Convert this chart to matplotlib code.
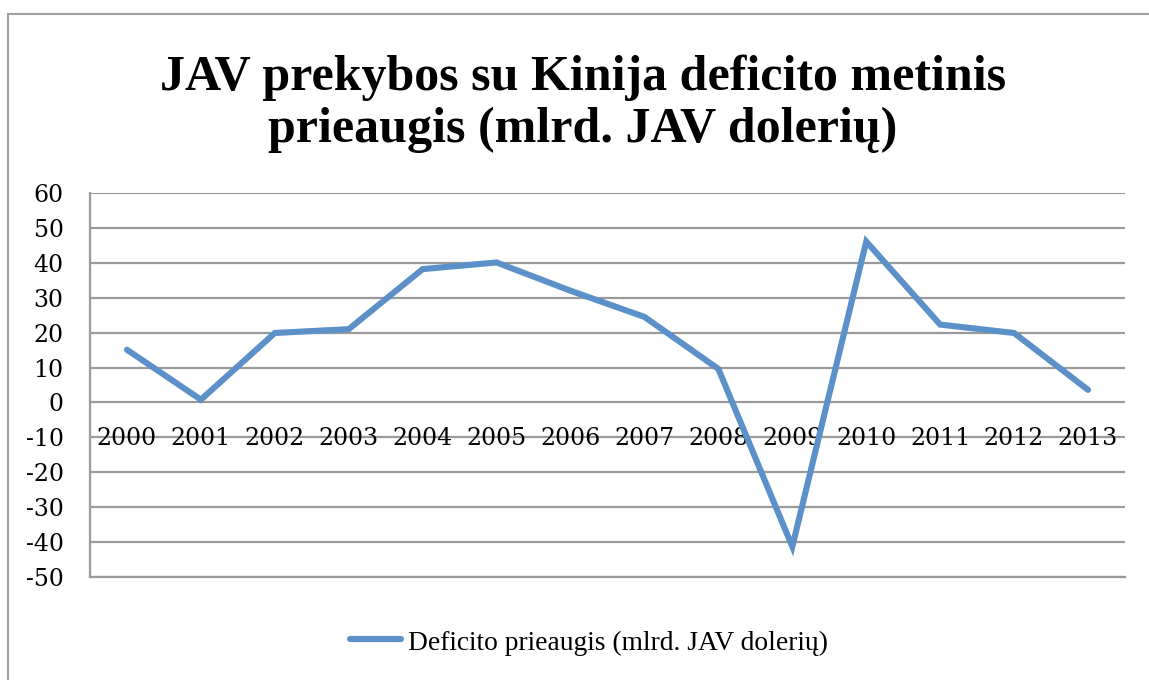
import matplotlib
matplotlib.use("Agg")
import matplotlib.pyplot as plt
from matplotlib.lines import Line2D

years = ["2000", "2001", "2002", "2003", "2004", "2005", "2006",
         "2007", "2008", "2009", "2010", "2011", "2012", "2013"]
values = [15.1, 0.8, 19.9, 21.0, 38.2, 40.1, 32.0,
          24.5, 9.6, -41.3, 46.1, 22.3, 19.9, 3.6]
yticks = [60, 50, 40, 30, 20, 10, 0, -10, -20, -30, -40, -50]
title_lines = ["JAV prekybos su Kinija deficito metinis",
               "prieaugis (mlrd. JAV dolerių)"]
series_name = "Deficito prieaugis (mlrd. JAV dolerių)"

TICKFONT = ["DejaVu Serif"]
TEXTFONT = ["Liberation Serif", "DejaVu Serif"]
plt.rcParams['font.family'] = TICKFONT

W, H = 1149, 680
fig = plt.figure(figsize=(W / 100, H / 100), dpi=100)
ax = fig.add_axes([90 / W, 1 - 577 / H, (1125 - 90) / W, (577 - 193) / H])

grid_c = "#9a9a9a"
line_c = "#5B90C8"

x = list(range(len(years)))
ax.plot(x, values, color=line_c, lw=4.4, solid_capstyle="round",
        solid_joinstyle="miter", zorder=3)

ax.set_xlim(-0.5, len(years) - 0.5)
ax.set_ylim(-50, 60)
ax.set_yticks(yticks)
ax.set_yticklabels([str(v) for v in yticks])
ax.tick_params(axis="y", length=0, pad=19, labelsize=17)
ax.set_xticks([])
ax.yaxis.grid(True, color=grid_c, lw=1.6)
ax.set_axisbelow(True)
for s in ["top", "right"]:
    ax.spines[s].set_visible(False)
ax.spines["left"].set_color(grid_c)
ax.spines["left"].set_linewidth(1.6)
ax.spines["bottom"].set_color(grid_c)
ax.spines["bottom"].set_linewidth(1.6)

for xi, lab in zip(x, years):
    ax.text(xi, -10.2, lab, ha="center", va="center", fontsize=17, zorder=2)

# Title
fig.text(583 / W, 1 - 90 / H, title_lines[0], ha="center", va="baseline",
         fontsize=36, fontweight="bold", family=TEXTFONT)
fig.text(583 / W, 1 - 142 / H, title_lines[1], ha="center", va="baseline",
         fontsize=36, fontweight="bold", family=TEXTFONT)

# Legend
fig.add_artist(Line2D([350 / W, 401 / W], [1 - 639 / H, 1 - 639 / H],
                      color=line_c, lw=4.4, solid_capstyle="round"))
fig.text(408 / W, 1 - 650 / H, series_name, ha="left", va="baseline",
         fontsize=19.8, family=TEXTFONT)

# Chart border (top and left)
fig.add_artist(Line2D([8 / W, 8 / W], [0, 1 - 14 / H], color="#a0a0a0", lw=1.5))
fig.add_artist(Line2D([8 / W, 1], [1 - 14 / H, 1 - 14 / H], color="#a0a0a0", lw=1.5))

fig.savefig("out.png", dpi=100)
